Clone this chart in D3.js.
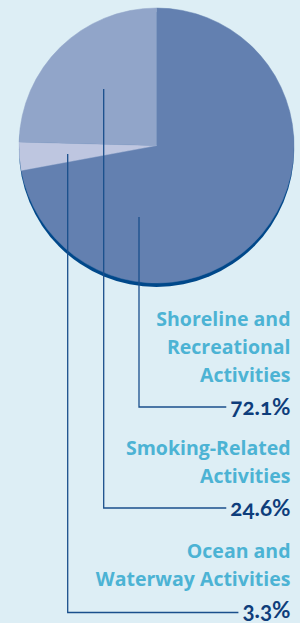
<!DOCTYPE html>
<html><head><meta charset="utf-8">
<script src="https://cdn.jsdelivr.net/npm/d3@7"></script>
<style>
html,body{margin:0;padding:0;background:#ddeef5;}
svg{display:block;}
text{font-variant-ligatures:none;}
</style></head>
<body>
<svg id="c" width="300" height="623"></svg>
<script>
const categories = ["Shoreline and Recreational Activities", "Ocean and Waterway Activities", "Smoking-Related Activities"];
const values = [72.1, 3.3, 24.6];
const labelLines = [["Shoreline and","Recreational","Activities"],["Ocean and","Waterway Activities"],["Smoking-Related","Activities"]];
const valueLabels = ["72.1%","3.3%","24.6%"];
const colors = ["#6380b0","#bec6e0","#91a5c9"];

const svg = d3.select("#c");
const cx = 156.5, cy = 145.5, R = 137.5;

const labelLayout = [
  {lines:[326,354,381.5], pct:415, lineY:407, anchor:[139,217]},
  {lines:[558,585.5], pct:618, lineY:612.5, anchor:[67.7,154]},
  {lines:[455,483], pct:516, lineY:508, anchor:[103.7,89]}
];

const pie = d3.pie().sort(null).value(d=>d)(values);
const arc = d3.arc().innerRadius(0).outerRadius(R);

const g = svg.append("g").attr("transform",`translate(${cx},${cy})`);
g.append("circle").attr("cx",0).attr("cy",4).attr("r",R).attr("fill","#00488a");
g.selectAll("path.s").data(pie).join("path").attr("class","s")
  .attr("d",arc).attr("fill",(d,i)=>colors[i])
  .attr("stroke",(d,i)=>colors[i]).attr("stroke-width",0.5);

const right = 290.5;
labelLayout.forEach((L,i)=>{
  labelLines[i].forEach((s,j)=>{
    svg.append("text").attr("x",right).attr("y",L.lines[j]).attr("text-anchor","end")
      .attr("font-family","'Open Sans', Lato, sans-serif").attr("font-weight",700)
      .attr("font-size",19.5).attr("fill","#4cb3d4").text(s);
  });
  const p = svg.append("text").attr("x",right).attr("y",L.pct).attr("text-anchor","end")
    .attr("font-family","Lato, 'Open Sans', sans-serif").attr("font-weight",700)
    .attr("font-size",22.5).attr("fill","#0e3d7b")
    .style("font-variant-numeric","oldstyle-nums").text(valueLabels[i]);
  const bb = p.node().getBBox();
  const endX = bb.x - 4;
  svg.append("path")
    .attr("d",`M${L.anchor[0]},${L.anchor[1]}V${L.lineY}H${endX}`)
    .attr("fill","none").attr("stroke","#1a4f8c").attr("stroke-width",1.3);
});
</script>
</body></html>
